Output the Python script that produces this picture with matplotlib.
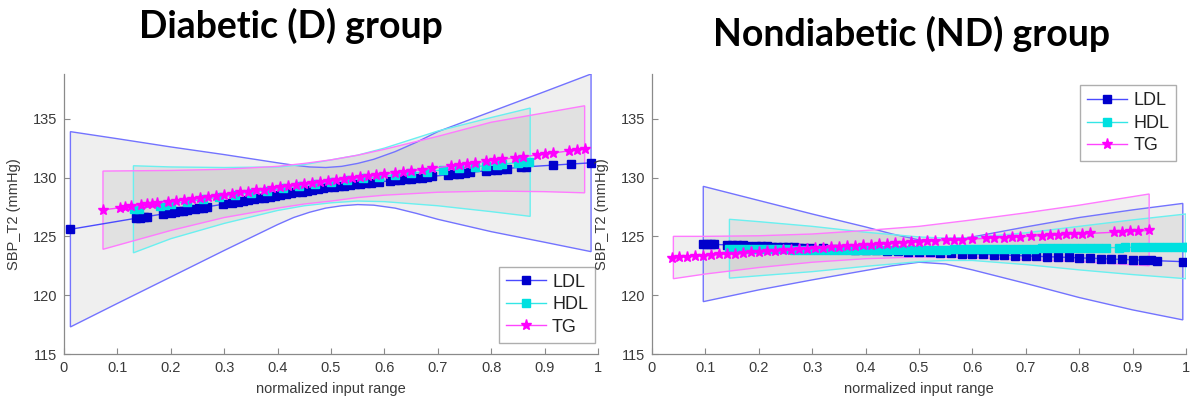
import matplotlib
matplotlib.use("Agg")
import matplotlib.pyplot as plt
import numpy as np

# ---------------- Diabetic (D) group ----------------
ldl_d_x = [0.012, 0.135, 0.142, 0.150, 0.155, 0.185, 0.200, 0.208, 0.215, 0.223, 0.230, 0.245,
           0.252, 0.260, 0.268, 0.298, 0.315, 0.325, 0.335, 0.345, 0.355, 0.365, 0.375, 0.385,
           0.395, 0.405, 0.415, 0.425, 0.435, 0.445, 0.455, 0.465, 0.475, 0.485, 0.495, 0.505,
           0.515, 0.525, 0.535, 0.545, 0.555, 0.565, 0.575, 0.590, 0.610, 0.620, 0.630, 0.640,
           0.650, 0.660, 0.670, 0.680, 0.690, 0.720, 0.730, 0.740, 0.750, 0.760, 0.790, 0.800,
           0.810, 0.820, 0.830, 0.855, 0.865, 0.915, 0.950, 0.987]
ldl_d_y = [125.60, 126.54, 126.59, 126.65, 126.68, 126.90, 127.01, 127.07, 127.12, 127.18, 127.23, 127.34,
           127.39, 127.45, 127.51, 127.73, 127.85, 127.92, 128.00, 128.07, 128.14, 128.22, 128.29, 128.36,
           128.43, 128.51, 128.58, 128.65, 128.73, 128.80, 128.87, 128.95, 129.02, 129.09, 129.16, 129.22,
           129.27, 129.32, 129.37, 129.41, 129.46, 129.51, 129.55, 129.62, 129.72, 129.77, 129.81, 129.86,
           129.91, 129.96, 130.00, 130.05, 130.10, 130.24, 130.29, 130.33, 130.38, 130.43, 130.57, 130.62,
           130.66, 130.71, 130.76, 130.88, 130.91, 131.05, 131.15, 131.25]

hdl_d_x = [0.132, 0.140, 0.180, 0.190, 0.200, 0.230, 0.260, 0.290, 0.320, 0.350, 0.380, 0.410,
           0.440, 0.470, 0.500, 0.530, 0.560, 0.590, 0.620, 0.650, 0.680, 0.710, 0.740, 0.770,
           0.790, 0.810, 0.820, 0.850, 0.860, 0.870]
hdl_d_y = [127.30, 127.36, 127.62, 127.69, 127.75, 127.95, 128.14, 128.33, 128.52, 128.71, 128.89, 129.07,
           129.25, 129.43, 129.60, 129.76, 129.92, 130.07, 130.22, 130.37, 130.51, 130.65, 130.79, 130.92,
           131.01, 131.10, 131.14, 131.27, 131.31, 131.35]

tg_d_x = [0.073, 0.105, 0.115, 0.125, 0.145, 0.155, 0.165, 0.175, 0.195, 0.210, 0.225, 0.240,
          0.255, 0.270, 0.285, 0.300, 0.315, 0.330, 0.345, 0.360, 0.375, 0.390, 0.405, 0.420,
          0.435, 0.450, 0.465, 0.480, 0.495, 0.510, 0.525, 0.540, 0.555, 0.570, 0.585, 0.600,
          0.620, 0.635, 0.650, 0.670, 0.690, 0.725, 0.740, 0.755, 0.770, 0.790, 0.805, 0.820,
          0.845, 0.860, 0.885, 0.900, 0.915, 0.945, 0.960, 0.975]
tg_d_y = [127.25, 127.43, 127.49, 127.55, 127.66, 127.72, 127.78, 127.84, 127.95, 128.04, 128.12, 128.21,
          128.29, 128.38, 128.47, 128.55, 128.64, 128.73, 128.81, 128.90, 128.98, 129.07, 129.16, 129.24,
          129.33, 129.41, 129.50, 129.59, 129.67, 129.76, 129.84, 129.93, 130.02, 130.10, 130.19, 130.27,
          130.39, 130.48, 130.56, 130.68, 130.79, 130.99, 131.08, 131.16, 131.25, 131.37, 131.45, 131.54,
          131.68, 131.77, 131.91, 132.00, 132.08, 132.26, 132.34, 132.43]

# confidence bands (D)
ldl_d_band_x = [0.012, 0.1, 0.2, 0.3, 0.4, 0.43, 0.46, 0.49, 0.52, 0.55, 0.58, 0.62, 0.66, 0.7, 0.8, 0.9, 0.987]
ldl_d_upper = [133.9, 133.3, 132.6, 131.95, 131.25, 131.05, 130.9, 130.85, 130.95, 131.2, 131.55, 132.2, 133.0, 133.9, 135.6, 137.3, 138.8]
ldl_d_lower = [117.3, 119.3, 121.55, 123.8, 126.0, 126.6, 127.05, 127.4, 127.6, 127.7, 127.65, 127.4, 126.95, 126.45, 125.4, 124.5, 123.7]

hdl_d_band_x = [0.13, 0.2, 0.3, 0.4, 0.45, 0.5, 0.55, 0.6, 0.7, 0.8, 0.873]
hdl_d_upper = [131.0, 130.9, 130.85, 130.9, 131.1, 131.5, 131.9, 132.5, 133.95, 135.1, 135.9]
hdl_d_lower = [123.6, 124.8, 126.1, 127.2, 127.6, 127.85, 128.0, 127.95, 127.6, 127.1, 126.7]

tg_d_band_x = [0.073, 0.2, 0.3, 0.4, 0.45, 0.5, 0.55, 0.6, 0.7, 0.8, 0.9, 0.975]
tg_d_upper = [130.55, 130.6, 130.7, 130.95, 131.2, 131.5, 131.9, 132.4, 133.5, 134.7, 135.5, 136.1]
tg_d_lower = [123.9, 125.5, 126.6, 127.4, 127.75, 128.0, 128.3, 128.5, 128.75, 128.85, 128.8, 128.7]

# ---------------- Nondiabetic (ND) group ----------------
ldl_nd_x = [0.096, 0.103, 0.110, 0.117, 0.140, 0.150, 0.160, 0.170, 0.180, 0.195, 0.205, 0.215,
            0.225, 0.235, 0.245, 0.255, 0.265, 0.275, 0.285, 0.295, 0.320, 0.340, 0.360, 0.380,
            0.400, 0.420, 0.440, 0.460, 0.480, 0.500, 0.520, 0.540, 0.560, 0.580, 0.600, 0.620,
            0.640, 0.660, 0.680, 0.700, 0.720, 0.740, 0.760, 0.780, 0.800, 0.820, 0.840, 0.860,
            0.880, 0.900, 0.920, 0.935, 0.945, 0.994]
ldl_nd_y = [124.35, 124.34, 124.33, 124.31, 124.28, 124.26, 124.24, 124.23, 124.21, 124.18, 124.17, 124.15,
            124.13, 124.12, 124.10, 124.08, 124.07, 124.05, 124.03, 124.02, 123.98, 123.94, 123.91, 123.88,
            123.84, 123.81, 123.78, 123.74, 123.71, 123.68, 123.64, 123.61, 123.58, 123.54, 123.51, 123.48,
            123.44, 123.41, 123.37, 123.34, 123.31, 123.27, 123.24, 123.21, 123.17, 123.14, 123.11, 123.07,
            123.04, 123.01, 122.97, 122.95, 122.93, 122.85]

hdl_nd_x = [0.145, 0.160, 0.175, 0.190, 0.205, 0.220, 0.235, 0.250, 0.265, 0.280, 0.295, 0.310,
            0.325, 0.340, 0.355, 0.370, 0.385, 0.400, 0.415, 0.430, 0.445, 0.460, 0.475, 0.490,
            0.505, 0.520, 0.535, 0.550, 0.565, 0.580, 0.595, 0.610, 0.625, 0.640, 0.655, 0.670,
            0.685, 0.700, 0.715, 0.730, 0.745, 0.760, 0.775, 0.790, 0.805, 0.820, 0.835, 0.850,
            0.875, 0.885, 0.905, 0.920, 0.935, 0.950, 0.965, 0.980, 0.995, 1.000]
hdl_nd_y = [123.91, 123.91, 123.90, 123.90, 123.90, 123.89, 123.89, 123.89, 123.88, 123.88, 123.88, 123.87,
            123.87, 123.87, 123.87, 123.86, 123.86, 123.86, 123.86, 123.86, 123.86, 123.86, 123.86, 123.86,
            123.87, 123.87, 123.88, 123.88, 123.89, 123.90, 123.90, 123.91, 123.92, 123.93, 123.93, 123.94,
            123.95, 123.96, 123.96, 123.97, 123.98, 123.99, 124.00, 124.01, 124.01, 124.02, 124.03, 124.04,
            124.05, 124.06, 124.07, 124.08, 124.08, 124.09, 124.10, 124.11, 124.12, 124.12]

tg_nd_x = [0.037, 0.050, 0.065, 0.080, 0.095, 0.110, 0.125, 0.140, 0.155, 0.170, 0.185, 0.200,
           0.215, 0.230, 0.245, 0.260, 0.275, 0.290, 0.305, 0.320, 0.335, 0.350, 0.365, 0.380,
           0.395, 0.410, 0.425, 0.440, 0.455, 0.470, 0.485, 0.500, 0.515, 0.530, 0.550, 0.565,
           0.580, 0.600, 0.625, 0.640, 0.660, 0.675, 0.690, 0.710, 0.730, 0.745, 0.760, 0.775,
           0.790, 0.805, 0.820, 0.865, 0.880, 0.895, 0.910, 0.930]
tg_nd_y = [123.20, 123.24, 123.28, 123.33, 123.37, 123.41, 123.46, 123.50, 123.54, 123.59, 123.63, 123.68,
           123.72, 123.76, 123.81, 123.85, 123.89, 123.94, 123.98, 124.03, 124.07, 124.11, 124.16, 124.20,
           124.25, 124.29, 124.33, 124.38, 124.42, 124.46, 124.51, 124.55, 124.58, 124.62, 124.66, 124.69,
           124.73, 124.77, 124.83, 124.86, 124.90, 124.94, 124.97, 125.01, 125.06, 125.09, 125.12, 125.16,
           125.19, 125.22, 125.25, 125.35, 125.39, 125.42, 125.45, 125.50]

# confidence bands (ND)
ldl_nd_band_x = [0.096, 0.2, 0.3, 0.4, 0.45, 0.5, 0.55, 0.6, 0.7, 0.8, 0.9, 0.994]
ldl_nd_upper = [129.25, 128.05, 126.9, 125.8, 125.2, 124.7, 124.65, 124.95, 125.8, 126.6, 127.25, 127.8]
ldl_nd_lower = [119.45, 120.45, 121.3, 122.1, 122.5, 122.8, 122.65, 122.15, 121.0, 119.8, 118.75, 117.9]

hdl_nd_band_x = [0.145, 0.2, 0.3, 0.4, 0.5, 0.55, 0.6, 0.7, 0.8, 0.9, 1.0]
hdl_nd_upper = [126.45, 126.25, 125.85, 125.35, 124.95, 124.85, 124.9, 125.3, 125.85, 126.4, 126.9]
hdl_nd_lower = [121.45, 121.65, 122.0, 122.45, 122.85, 122.95, 122.95, 122.6, 122.15, 121.75, 121.4]

tg_nd_band_x = [0.04, 0.1, 0.2, 0.3, 0.4, 0.5, 0.6, 0.7, 0.8, 0.931]
tg_nd_upper = [125.0, 125.0, 125.05, 125.2, 125.5, 125.85, 126.4, 127.0, 127.65, 128.6]
tg_nd_lower = [121.4, 121.8, 122.35, 122.8, 123.1, 123.25, 123.2, 123.0, 122.85, 122.5]

x_ticks = [0, 0.1, 0.2, 0.3, 0.4, 0.5, 0.6, 0.7, 0.8, 0.9, 1]
x_tick_labels = ["0", "0.1", "0.2", "0.3", "0.4", "0.5", "0.6", "0.7", "0.8", "0.9", "1"]
y_ticks = [115, 120, 125, 130, 135]

plt.rcParams["font.family"] = ["Liberation Sans", "DejaVu Sans"]

TXT = "#3a3a3a"
AX = "#8a8a8a"

fig = plt.figure(figsize=(11.91, 4.01), dpi=100)
ax_d = fig.add_axes([64 / 1191, 47 / 401, 534 / 1191, 280 / 401])
ax_nd = fig.add_axes([652 / 1191, 47 / 401, 534 / 1191, 280 / 401])

series_style = {
    "LDL": dict(color="#4a4aff", marker="s", mfc="#0000cc", mec="#0000cc", ms=6, edge="#7373ff"),
    "HDL": dict(color="#33e6e6", marker="s", mfc="#00e0e0", mec="#00e0e0", ms=6, edge="#6af0f0"),
    "TG": dict(color="#ff44ff", marker="*", mfc="#ff00ff", mec="#ff00ff", ms=8, edge="#ff7aff"),
}


def draw_band(ax, bx, up, lo, name):
    xs = list(bx) + list(bx[::-1])
    ys = list(up) + list(lo[::-1])
    ax.fill(xs, ys, facecolor="#808080", alpha=0.12, edgecolor="none", zorder=1)
    ax.fill(xs, ys, facecolor="none", edgecolor=series_style[name]["edge"], lw=1.0, zorder=2)


def draw_series(ax, x, y, name):
    s = series_style[name]
    line, = ax.plot(x, y, color=s["color"], lw=1.0, marker=s["marker"], ms=s["ms"],
                    mfc=s["mfc"], mec=s["mec"], label=name, zorder=3)
    return line


def style_axes(ax):
    ax.set_xlim(0, 1)
    ax.set_ylim(115, 138.8)
    ax.set_xticks(x_ticks)
    ax.set_xticklabels(x_tick_labels)
    ax.set_yticks(y_ticks)
    for side in ["top", "right"]:
        ax.spines[side].set_visible(False)
    for side in ["left", "bottom"]:
        ax.spines[side].set_color(AX)
        ax.spines[side].set_linewidth(0.9)
    ax.tick_params(direction="in", length=4, width=0.8, color=AX, labelcolor=TXT,
                   labelsize=10.5, pad=5)
    ax.set_xlabel("normalized input range", fontsize=10.5, color=TXT, labelpad=5)
    ax.set_ylabel("SBP_T2 (mmHg)", fontsize=10.5, color=TXT, labelpad=8)


def add_legend(ax, loc, anchor):
    leg = ax.legend(loc=loc, bbox_to_anchor=anchor, borderaxespad=0,
                    fontsize=13, frameon=True, fancybox=False, handlelength=2.2,
                    labelspacing=0.3, handletextpad=0.35, borderpad=0.4)
    leg.get_frame().set_edgecolor("#9a9a9a")
    leg.get_frame().set_linewidth(1.0)
    for t in leg.get_texts():
        t.set_color("#222222")


# Diabetic panel
draw_band(ax_d, ldl_d_band_x, ldl_d_upper, ldl_d_lower, "LDL")
draw_band(ax_d, hdl_d_band_x, hdl_d_upper, hdl_d_lower, "HDL")
draw_band(ax_d, tg_d_band_x, tg_d_upper, tg_d_lower, "TG")
draw_series(ax_d, ldl_d_x, ldl_d_y, "LDL")
draw_series(ax_d, hdl_d_x, hdl_d_y, "HDL")
draw_series(ax_d, tg_d_x, tg_d_y, "TG")
style_axes(ax_d)
add_legend(ax_d, "lower right", (0.995, 0.04))

# Nondiabetic panel
draw_band(ax_nd, ldl_nd_band_x, ldl_nd_upper, ldl_nd_lower, "LDL")
draw_band(ax_nd, hdl_nd_band_x, hdl_nd_upper, hdl_nd_lower, "HDL")
draw_band(ax_nd, tg_nd_band_x, tg_nd_upper, tg_nd_lower, "TG")
draw_series(ax_nd, ldl_nd_x, ldl_nd_y, "LDL")
draw_series(ax_nd, hdl_nd_x, hdl_nd_y, "HDL")
draw_series(ax_nd, tg_nd_x, tg_nd_y, "TG")
style_axes(ax_nd)
add_legend(ax_nd, "upper right", (0.982, 0.96))

# panel titles
fig.text(291 / 1191, 1 - 26 / 401, "Diabetic (D) group", ha="center", va="center",
         fontsize=27, fontweight="bold", family=["Lato", "DejaVu Sans"], color="black")
fig.text(912 / 1191, 1 - 34 / 401, "Nondiabetic (ND) group", ha="center", va="center",
         fontsize=27, fontweight="bold", family=["Lato", "DejaVu Sans"], color="black")

fig.savefig("out.png", dpi=100)
